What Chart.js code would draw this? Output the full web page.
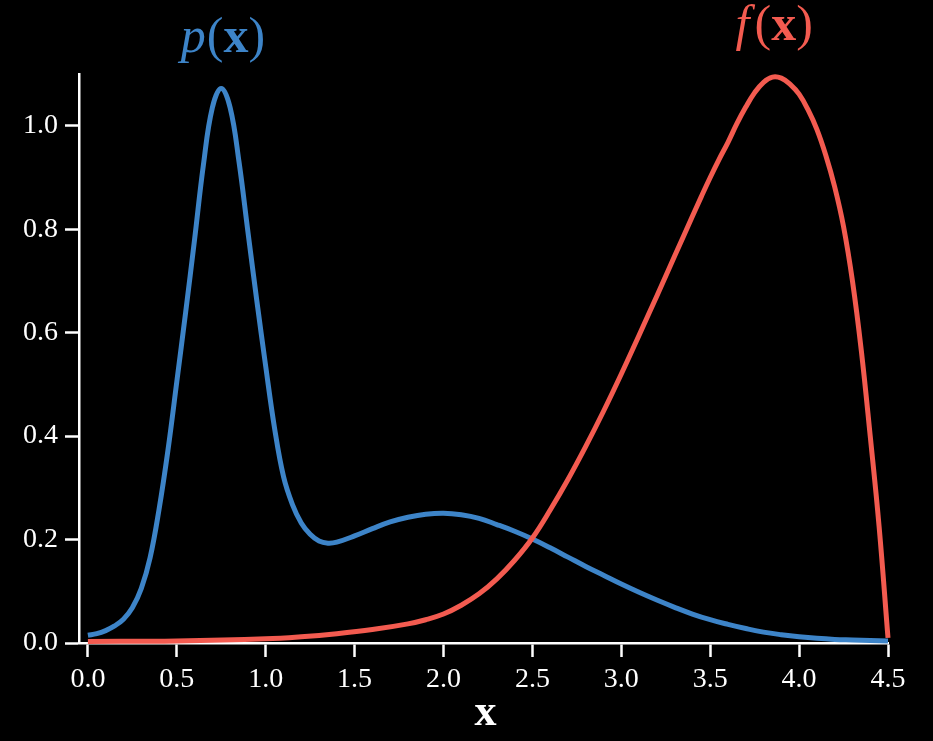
<!DOCTYPE html>
<html>
<head>
<meta charset="utf-8">
<script src="https://cdn.jsdelivr.net/npm/chart.js@4"></script>
<style>
  html, body { margin: 0; padding: 0; background: #000; }
  canvas { display: block; }
</style>
</head>
<body>
<canvas id="grafico" width="933" height="741"></canvas>
<script>
// p(x): curva azul
const pX = [0.0, 0.05, 0.1, 0.15, 0.2, 0.25, 0.3, 0.35, 0.4, 0.45, 0.5, 0.55, 0.6, 0.65, 0.7, 0.75, 0.8, 0.85, 0.9, 0.95,
            1.0, 1.05, 1.1, 1.15, 1.2, 1.25, 1.3, 1.35, 1.4, 1.5, 1.6, 1.7, 1.8, 1.9, 2.0, 2.1, 2.2, 2.3, 2.4,
            2.5, 2.6, 2.7, 2.8, 2.9, 3.0, 3.1, 3.2, 3.3, 3.4, 3.5, 3.6, 3.7, 3.8, 3.9, 4.0, 4.1,
            4.2, 4.3, 4.4, 4.5];
const pValues = [0.015, 0.018, 0.024, 0.033, 0.046, 0.068, 0.105, 0.165, 0.258, 0.372, 0.505, 0.640, 0.780, 0.925, 1.035, 1.072, 1.035, 0.930, 0.795, 0.662,
                 0.535, 0.415, 0.322, 0.268, 0.232, 0.210, 0.197, 0.193, 0.195, 0.207, 0.221, 0.234, 0.243, 0.249, 0.251, 0.248, 0.241, 0.229, 0.216,
                 0.201, 0.184, 0.166, 0.148, 0.131, 0.114, 0.098, 0.083, 0.069, 0.056, 0.045, 0.036, 0.028, 0.021, 0.016, 0.012, 0.009,
                 0.007, 0.006, 0.005, 0.004];

// f(x): curva vermelha
const fX = [0.0, 0.5, 1.0, 1.2, 1.4, 1.6, 1.8, 1.9, 2.0, 2.1, 2.2, 2.3, 2.4, 2.5, 2.6, 2.7, 2.8, 2.9, 3.0,
            3.1, 3.2, 3.3, 3.4, 3.45, 3.5, 3.55, 3.6, 3.65, 3.7, 3.75, 3.8, 3.85, 3.9, 3.95, 4.0, 4.05, 4.1, 4.15, 4.2, 4.25, 4.3, 4.35, 4.4, 4.45, 4.5];
const fValues = [0.003, 0.004, 0.008, 0.012, 0.018, 0.026, 0.037, 0.045, 0.056, 0.073, 0.095, 0.124, 0.160, 0.203, 0.257, 0.316, 0.380, 0.448, 0.520,
                 0.595, 0.671, 0.748, 0.825, 0.863, 0.900, 0.935, 0.968, 1.004, 1.036, 1.064, 1.084, 1.094, 1.092, 1.080, 1.061, 1.031, 0.993, 0.943, 0.882, 0.805, 0.700, 0.565, 0.400, 0.225, 0.010];

const xTicks = [0, 0.5, 1, 1.5, 2, 2.5, 3, 3.5, 4, 4.5];
const yTicks = [0, 0.2, 0.4, 0.6, 0.8, 1.0];

const azul = '#3d84c8';
const vermelho = '#f35b50';
const fonteSerif = 'Liberation Serif';

// rotulos p(x), f(x) e x
const rotulos = {
    id: 'rotulos',
    afterDraw(chart) {
        const { ctx, scales, chartArea } = chart;
        const escreve = (partes, cx, baseY, cor) => {
            ctx.save();
            ctx.fillStyle = cor;
            ctx.textBaseline = 'alphabetic';
            ctx.textAlign = 'left';
            let total = 0;
            partes.forEach(p => { ctx.font = p.f; total += ctx.measureText(p.t).width + (p.g || 0); });
            let px = cx - total / 2;
            partes.forEach(p => {
                ctx.font = p.f;
                ctx.fillText(p.t, px, baseY);
                px += ctx.measureText(p.t).width + (p.g || 0);
            });
            ctx.restore();
        };
        const tam = 50;
        const it = `italic ${tam}px "${fonteSerif}"`;
        const rm = `${tam}px "${fonteSerif}"`;
        const bf = `bold ${tam}px "${fonteSerif}"`;
        escreve([{ t: 'p', f: it, g: 1 }, { t: '(', f: rm }, { t: 'x', f: bf }, { t: ')', f: rm }],
            scales.x.getPixelForValue(0.76), 52, azul);
        escreve([{ t: 'f', f: it, g: 5 }, { t: '(', f: rm }, { t: 'x', f: bf }, { t: ')', f: rm }],
            scales.x.getPixelForValue(3.86), 40, vermelho);
        escreve([{ t: 'x', f: `bold 44px "${fonteSerif}"` }],
            (chartArea.left + chartArea.right) / 2 + 2, 725, '#fff');
    }
};

const eixo = {
    grid: { display: true, drawOnChartArea: false, drawTicks: true, tickLength: 14, tickColor: '#fff', tickWidth: 2.5 },
    border: { display: true, color: '#fff', width: 2.5 },
    ticks: { color: '#fff', font: { family: fonteSerif, size: 28 }, callback: v => Number(v).toFixed(1) }
};

const linha = {
    borderWidth: 5,
    pointRadius: 0,
    tension: 0.4,
    clip: false
};

new Chart(document.getElementById('grafico').getContext('2d'), {
    type: 'line',
    data: {
        datasets: [{
            label: 'f(x)',
            data: fX.map((x, i) => ({ x, y: fValues[i] })),
            borderColor: vermelho,
            ...linha,
            order: 0
        }, {
            label: 'p(x)',
            data: pX.map((x, i) => ({ x, y: pValues[i] })),
            borderColor: azul,
            ...linha,
            order: 1
        }]
    },
    options: {
        responsive: false,
        animation: false,
        layout: { padding: { top: 74, right: 45, left: 0, bottom: 0 } },
        scales: {
            x: {
                type: 'linear',
                min: -0.05,
                max: 4.5,
                ...eixo,
                ticks: { ...eixo.ticks, padding: 6, maxRotation: 0 },
                afterBuildTicks: s => { s.ticks = xTicks.map(v => ({ value: v })); },
                afterFit: s => { s.height = 98; }
            },
            y: {
                min: 0,
                max: 1.1,
                ...eixo,
                ticks: { ...eixo.ticks, padding: 7 },
                afterBuildTicks: s => { s.ticks = yTicks.map(v => ({ value: v })); },
                afterFit: s => { s.width = 79; }
            }
        },
        plugins: {
            legend: { display: false },
            tooltip: { enabled: false }
        }
    },
    plugins: [rotulos]
});
</script>
</body>
</html>
